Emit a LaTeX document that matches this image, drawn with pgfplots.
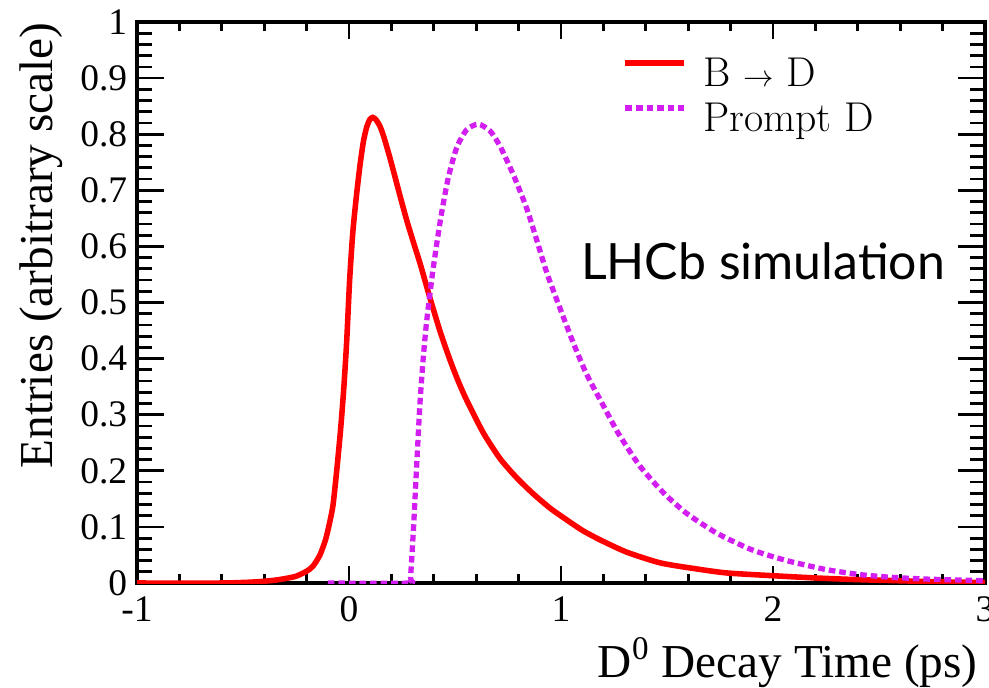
\documentclass[border=0pt]{standalone}
\usepackage{fontspec}
\usepackage{pgfplots}
\pgfplotsset{compat=1.18}
\newfontfamily\timesfont{Liberation Serif}
\newfontfamily\gillfont{Lato}
\newcommand{\tl}[1]{{\timesfont\fontsize{13.5}{15}\selectfont #1}}
\definecolor{promptmag}{RGB}{210,30,240}
\begin{document}
\begin{tikzpicture}
\begin{axis}[
  scale only axis, width=305.28pt, height=201.96pt,
  xmin=-1, xmax=3, ymin=0, ymax=1,
  xtick={-1,0,1,2,3},
  ytick={0,0.1,0.2,0.3,0.4,0.5,0.6,0.7,0.8,0.9,1},
  yticklabels={\tl{0},\tl{0.1},\tl{0.2},\tl{0.3},\tl{0.4},\tl{0.5},\tl{0.6},\tl{0.7},\tl{0.8},\tl{0.9},\tl{1}},
  xticklabels={\tl{-1},\tl{0},\tl{1},\tl{2},\tl{3}},
  /pgf/number format/assume math mode=true,
  minor x tick num=4, minor y tick num=4,
  tick align=inside, tick pos=both,
  axis line style={line width=1.2pt},
  every tick/.style={black, line width=1pt},
  xtick style={/pgfplots/major tick length=6.1pt, /pgfplots/minor tick length=3.2pt},
  ytick style={/pgfplots/major tick length=9.7pt, /pgfplots/minor tick length=5.4pt},
  xticklabel style={font=\timesfont\fontsize{13.5}{15}\selectfont, yshift=-1.5pt},
  yticklabel style={font=\timesfont\fontsize{13.5}{15}\selectfont},
  legend style={at={(rel axis cs:0.572,0.936)}, anchor=north west, draw=none, fill=none,
    font=\fontsize{15}{17}\selectfont, inner sep=0pt, row sep=3pt, column sep=6pt,
    nodes={inner sep=0pt, text height=10.2pt, text depth=3pt}},
  legend cell align=left,
  legend image code/.code={\draw[#1] (0pt,5pt) -- (21pt,5pt);},
]
\addplot[red, line width=2pt, smooth, tension=0.4] coordinates {
(-1.0,0) (-0.6,0) (-0.44,0.002) (-0.35,0.005) (-0.30,0.008) (-0.25,0.012)
(-0.20,0.021) (-0.17,0.030) (-0.137,0.050) (-0.11,0.078) (-0.09,0.110)
(-0.075,0.14) (-0.058,0.200) (-0.04,0.272) (-0.025,0.345) (-0.011,0.43)
(0.003,0.54) (0.018,0.625) (0.035,0.69) (0.052,0.745) (0.068,0.787) (0.083,0.812)
(0.098,0.826) (0.112,0.830) (0.127,0.826) (0.145,0.815) (0.162,0.798) (0.19,0.762) (0.217,0.724)
(0.245,0.684) (0.272,0.647) (0.305,0.606) (0.335,0.570) (0.36,0.537)
(0.382,0.508) (0.43,0.448) (0.476,0.398) (0.515,0.360) (0.555,0.326) (0.633,0.268)
(0.712,0.222) (0.79,0.188) (0.869,0.159) (0.95,0.133) (1.027,0.1125)
(1.10,0.094) (1.184,0.077) (1.31,0.055) (1.467,0.036) (1.624,0.026)
(1.78,0.018) (2.0,0.013) (2.2,0.009) (2.4,0.006) (2.6,0.004) (2.8,0.002) (3.0,0.001)
};
\addlegendentry{B {\fontsize{10.5}{12}\selectfont$\rightarrow$} D}
\addplot[promptmag, line width=1.9pt, dash pattern=on 2.4pt off 1.4pt, smooth, tension=0.4] coordinates {
(-0.1,0) (0.28,0) (0.29,0.01) (0.303,0.089) (0.311,0.148) (0.319,0.208)
(0.335,0.322) (0.35,0.40) (0.365,0.462) (0.38,0.51) (0.395,0.555)
(0.414,0.605) (0.437,0.660) (0.468,0.722) (0.508,0.776) (0.555,0.808)
(0.61,0.818) (0.665,0.806) (0.712,0.779) (0.775,0.728) (0.838,0.668)
(0.885,0.612) (0.933,0.553) (0.995,0.490) (1.058,0.428) (1.121,0.372)
(1.2,0.316) (1.27,0.267) (1.373,0.208) (1.483,0.161) (1.593,0.124)
(1.734,0.089) (1.876,0.063) (1.94,0.054) (2.017,0.045) (2.096,0.037)
(2.25,0.024) (2.41,0.015) (2.566,0.010) (2.725,0.007) (2.91,0.005) (3.0,0.004)
};
\addlegendentry{Prompt D}
\node[font=\gillfont\fontsize{18}{20}\selectfont] at (axis cs:1.953,0.573) {LHCb simulation};
\end{axis}
\node[rotate=90, anchor=south east, inner sep=0pt, font=\timesfont\fontsize{17}{20}\selectfont]
  at ([xshift=-26.64pt]current axis.north west) {Entries (arbitrary scale)};
\node[anchor=base east, inner sep=0pt, font=\timesfont\fontsize{17}{20}\selectfont]
  at ([xshift=-2.52pt, yshift=-33.84pt]current axis.south east) {D\textsuperscript{0} Decay Time (ps)};
\pgfresetboundingbox
\useasboundingbox ([xshift=-49.32pt, yshift=-37.44pt]current axis.south west) rectangle ([xshift=1.44pt, yshift=7.92pt]current axis.north east);
\end{tikzpicture}
\end{document}
